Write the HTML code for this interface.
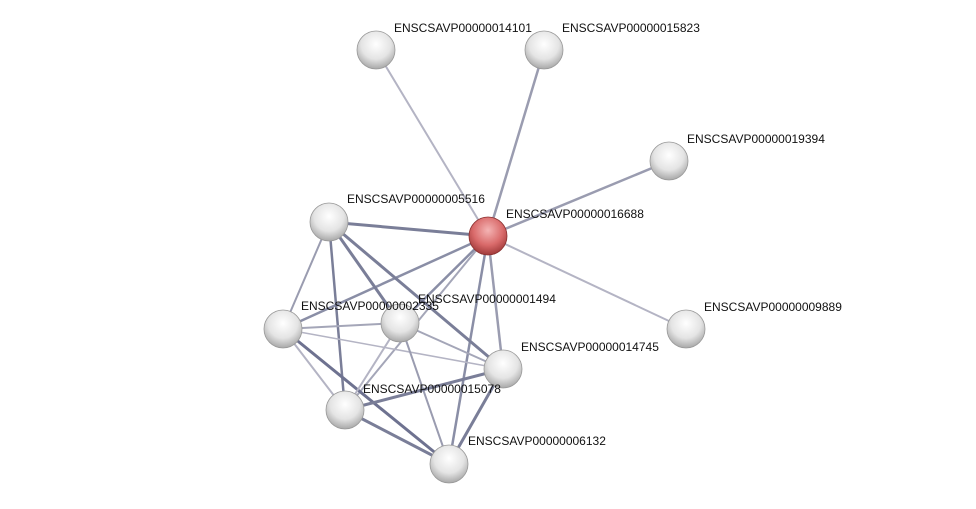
<!DOCTYPE html>
<html><head><meta charset="utf-8"><style>
html,body{margin:0;padding:0;background:#fff;}
svg{display:block;}
text{font-family:"Liberation Sans",sans-serif;font-size:12px;fill:#111;}
</style></head><body>
<svg width="976" height="509" viewBox="0 0 976 509">
<defs>
<radialGradient id="g" cx="50%" cy="35%" r="65%">
<stop offset="0" stop-color="#ffffff"/><stop offset="0.6" stop-color="#e4e4e4"/><stop offset="1" stop-color="#a8a8a8"/>
</radialGradient>
<radialGradient id="r" cx="50%" cy="35%" r="65%">
<stop offset="0" stop-color="#f4b4b4"/><stop offset="0.6" stop-color="#d96a6a"/><stop offset="1" stop-color="#a03a3a"/>
</radialGradient>
</defs>
<g stroke-linecap="round">
<line x1="488" y1="236" x2="376" y2="50" stroke="#b4b4c4" stroke-width="2"/>
<line x1="488" y1="236" x2="544" y2="50" stroke="#9a9cb0" stroke-width="2.5"/>
<line x1="488" y1="236" x2="669" y2="161" stroke="#9a9cb0" stroke-width="2.5"/>
<line x1="488" y1="236" x2="686" y2="329" stroke="#b4b4c4" stroke-width="2"/>
<line x1="488" y1="236" x2="329" y2="222" stroke="#7a7e98" stroke-width="3"/>
<line x1="488" y1="236" x2="283" y2="329" stroke="#8a8ea6" stroke-width="2.5"/>
<line x1="488" y1="236" x2="400" y2="323" stroke="#8a8ea6" stroke-width="2.5"/>
<line x1="488" y1="236" x2="503" y2="369" stroke="#9a9cb0" stroke-width="2.5"/>
<line x1="488" y1="236" x2="449" y2="464" stroke="#8a8ea6" stroke-width="2.5"/>
<line x1="488" y1="236" x2="345" y2="410" stroke="#a4a6b8" stroke-width="2"/>
<line x1="329" y1="222" x2="283" y2="329" stroke="#9a9cb0" stroke-width="2"/>
<line x1="329" y1="222" x2="345" y2="410" stroke="#7a7e98" stroke-width="2.5"/>
<line x1="329" y1="222" x2="400" y2="323" stroke="#7a7e98" stroke-width="3"/>
<line x1="329" y1="222" x2="503" y2="369" stroke="#7a7e98" stroke-width="3"/>
<line x1="283" y1="329" x2="400" y2="323" stroke="#a4a6b8" stroke-width="2"/>
<line x1="283" y1="329" x2="503" y2="369" stroke="#b4b4c4" stroke-width="1.5"/>
<line x1="283" y1="329" x2="345" y2="410" stroke="#b4b4c4" stroke-width="2"/>
<line x1="283" y1="329" x2="449" y2="464" stroke="#6e7290" stroke-width="3"/>
<line x1="400" y1="323" x2="345" y2="410" stroke="#b4b4c4" stroke-width="2"/>
<line x1="400" y1="323" x2="449" y2="464" stroke="#9a9cb0" stroke-width="2"/>
<line x1="400" y1="323" x2="503" y2="369" stroke="#a4a6b8" stroke-width="2"/>
<line x1="503" y1="369" x2="345" y2="410" stroke="#7a7e98" stroke-width="3"/>
<line x1="503" y1="369" x2="449" y2="464" stroke="#7a7e98" stroke-width="3"/>
<line x1="345" y1="410" x2="449" y2="464" stroke="#7a7e98" stroke-width="3"/>
</g>
<g stroke="#999" stroke-width="0.8">
<circle cx="376" cy="50" r="19" fill="url(#g)"/>
<circle cx="544" cy="50" r="19" fill="url(#g)"/>
<circle cx="669" cy="161" r="19" fill="url(#g)"/>
<circle cx="686" cy="329" r="19" fill="url(#g)"/>
<circle cx="329" cy="222" r="19" fill="url(#g)"/>
<circle cx="283" cy="329" r="19" fill="url(#g)"/>
<circle cx="400" cy="323" r="19" fill="url(#g)"/>
<circle cx="503" cy="369" r="19" fill="url(#g)"/>
<circle cx="345" cy="410" r="19" fill="url(#g)"/>
<circle cx="449" cy="464" r="19" fill="url(#g)"/>
<circle cx="488" cy="236" r="19" fill="url(#r)" stroke="#8a3030"/>
</g>
<text x="394" y="32">ENSCSAVP00000014101</text>
<text x="562" y="32">ENSCSAVP00000015823</text>
<text x="687" y="143">ENSCSAVP00000019394</text>
<text x="347" y="203">ENSCSAVP00000005516</text>
<text x="506" y="218">ENSCSAVP00000016688</text>
<text x="418" y="303">ENSCSAVP00000001494</text>
<text x="301" y="310">ENSCSAVP00000002335</text>
<text x="704" y="311">ENSCSAVP00000009889</text>
<text x="521" y="351">ENSCSAVP00000014745</text>
<text x="363" y="393">ENSCSAVP00000015078</text>
<text x="468" y="445">ENSCSAVP00000006132</text>
</svg>
</body></html>
